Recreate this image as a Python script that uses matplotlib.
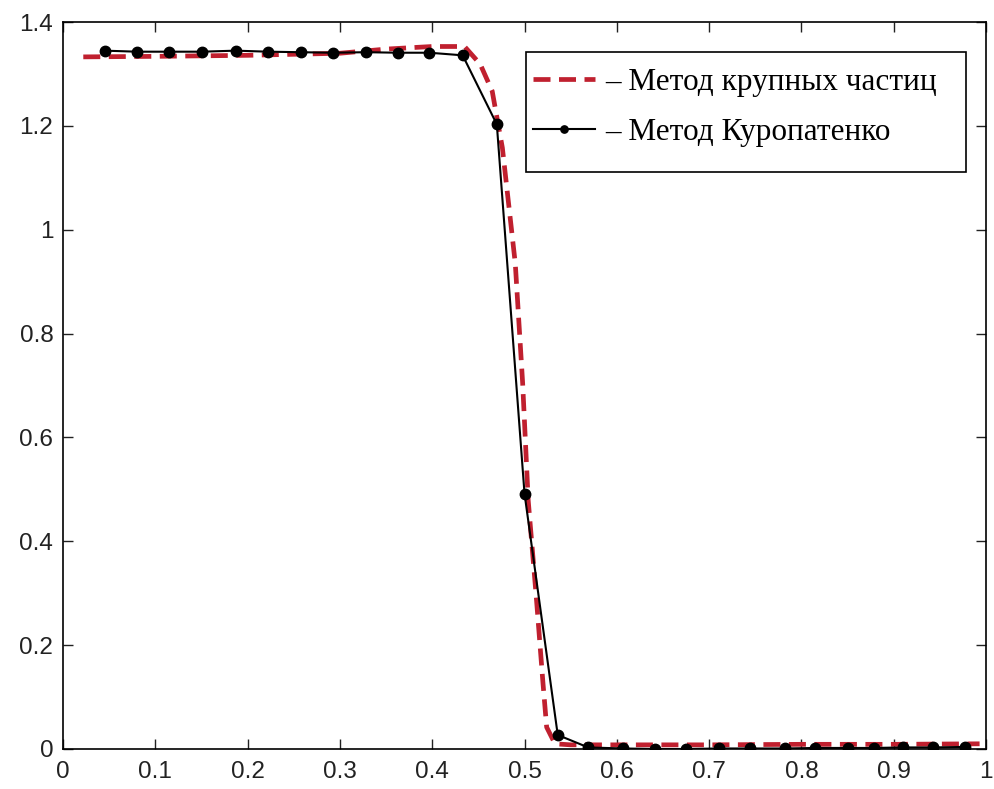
import matplotlib
matplotlib.use('Agg')
import matplotlib.pyplot as plt
from matplotlib.patches import Rectangle
from matplotlib.ticker import FormatStrFormatter

# метод крупных частиц
x_big = [0.022, 0.10, 0.20, 0.30, 0.35, 0.40, 0.435, 0.452, 0.465, 0.476, 0.490,
         0.498, 0.504, 0.513, 0.520, 0.524, 0.533, 0.55, 0.60, 0.70, 0.80, 0.90, 0.993]
y_big = [1.333, 1.334, 1.336, 1.340, 1.348, 1.353, 1.353, 1.319, 1.267, 1.158, 0.935,
         0.704, 0.479, 0.287, 0.127, 0.042, 0.010, 0.008, 0.008, 0.008, 0.009, 0.009, 0.010]

# метод Куропатенко
x_kur = [0.045, 0.080, 0.115, 0.151, 0.187, 0.222, 0.258, 0.292, 0.328, 0.363,
         0.397, 0.433, 0.470, 0.500, 0.536, 0.569, 0.607, 0.641, 0.675, 0.711,
         0.744, 0.782, 0.815, 0.850, 0.879, 0.910, 0.943, 0.977]
y_kur = [1.345, 1.343, 1.343, 1.343, 1.345, 1.343, 1.342, 1.341, 1.342, 1.341,
         1.341, 1.336, 1.203, 0.492, 0.027, 0.003, 0.001, 0.000, 0.000, 0.001,
         0.001, 0.001, 0.002, 0.002, 0.002, 0.003, 0.003, 0.004]

labels = ['– Метод крупных частиц', '– Метод Куропатенко']
xticks = [0, 0.1, 0.2, 0.3, 0.4, 0.5, 0.6, 0.7, 0.8, 0.9, 1.0]
yticks = [0, 0.2, 0.4, 0.6, 0.8, 1.0, 1.2, 1.4]

plt.rcParams.update({'font.family': 'Liberation Sans', 'font.size': 17.5})

fig = plt.figure(figsize=(9.95, 7.89), dpi=100)
ax = fig.add_axes([0.0633, 0.0507, 0.9277, 0.9213])

ax.plot(x_big, y_big, color='#c0202f', linewidth=3.4, linestyle=(0, (3.6, 1.8)),
        label=labels[0], zorder=2)
ax.plot(x_kur, y_kur, color='black', linewidth=1.5, marker='o', markersize=7.5,
        label=labels[1], zorder=3)

ax.set_xlim(0, 1)
ax.set_ylim(0, 1.4)
ax.set_xticks(xticks)
ax.set_yticks(yticks)
ax.xaxis.set_major_formatter(FormatStrFormatter('%g'))
ax.yaxis.set_major_formatter(FormatStrFormatter('%g'))
ax.tick_params(axis='both', direction='in', top=True, right=True, length=7, width=1,
               colors='#222222')
ax.tick_params(axis='x', pad=9)
ax.tick_params(axis='y', pad=7)
for sp in ax.spines.values():
    sp.set_linewidth(1.2)

# рамка легенды с широким нижним полем
ax.add_patch(Rectangle((0.502, 0.794), 0.476, 0.165, transform=ax.transAxes,
                       facecolor='white', edgecolor='black', linewidth=1.2, zorder=4))
ax.legend(loc='upper left', bbox_to_anchor=(0.509, 0.937),
          prop={'family': 'Liberation Serif', 'size': 22.5},
          handlelength=2.0, handletextpad=0.33, borderpad=0,
          labelspacing=0.68, frameon=False, markerscale=0.7,
          borderaxespad=0).set_zorder(5)

fig.savefig('out.png', dpi=100)
